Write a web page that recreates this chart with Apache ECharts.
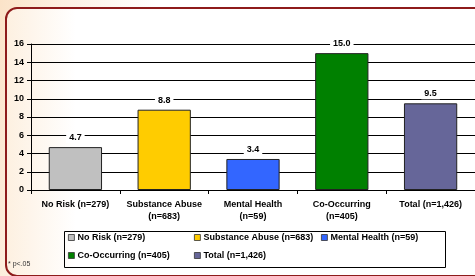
<!DOCTYPE html>
<html>
<head>
<meta charset="utf-8">
<script src="https://cdn.jsdelivr.net/npm/echarts@6/dist/echarts.min.js"></script>
<style>
html, body { margin:0; padding:0; }
body { width:475px; height:276px; overflow:hidden; position:relative;
  background: linear-gradient(100deg, #fbe3c8 0%, #fdf0e2 12%, #ffffff 30%); }
#card { position:absolute; left:5px; top:7px; width:490px; height:266px;
  border:2px solid #8e1b1b; border-radius:12px;
  background: linear-gradient(90deg, rgba(252,228,200,0.55) 0%, rgba(255,255,255,0) 14%), #fff; }
#main { position:absolute; left:0; top:0; width:475px; height:276px; }
</style>
</head>
<body>
<div id="card"></div>
<div id="main"></div>
<script>
var categories = ['No Risk (n=279)', 'Substance Abuse\n(n=683)', 'Mental Health\n(n=59)', 'Co-Occurring\n(n=405)', 'Total (n=1,426)'];
var seriesNames = ['No Risk (n=279)', 'Substance Abuse (n=683)', 'Mental Health (n=59)', 'Co-Occurring (n=405)', 'Total (n=1,426)'];
var values = [4.7, 8.8, 3.4, 15.0, 9.5];
var colors = ['#c0c0c0', '#ffcc00', '#3366ff', '#008000', '#666699'];
var yTicks = [0, 2, 4, 6, 8, 10, 12, 14, 16];

var dom = document.getElementById("main");
var myChart = echarts.init(dom);

var series = [];
for (var i = 0; i < values.length; i++) {
    var d = [];
    for (var j = 0; j < values.length; j++) {
        d.push(j == i ? values[i] : '-');
    }
    series.push({
        name: seriesNames[i],
        type: 'bar',
        stack: 'all',
        barWidth: '60%',
        data: d,
        itemStyle: { color: colors[i], borderColor: '#222', borderWidth: 1 },
        label: {
            show: true,
            position: 'top',
            distance: 4,
            formatter: function (p) { return p.value.toFixed(1); },
            color: '#000',
            fontFamily: 'Arial',
            fontWeight: 'bold',
            fontSize: 9,
            backgroundColor: '#fff',
            padding: [1, 3]
        }
    });
}

var legendPos = [[68, 233], [194, 233], [321, 233], [68, 251], [194, 251]];
var legends = [];
for (var k = 0; k < seriesNames.length; k++) {
    legends.push({
        data: [seriesNames[k]],
        left: legendPos[k][0],
        top: legendPos[k][1],
        padding: 0,
        itemWidth: 6,
        itemHeight: 6,
        itemGap: 0,
        selectedMode: false,
        icon: 'rect',
        itemStyle: { borderColor: '#333', borderWidth: 0.8 },
        textStyle: { fontFamily: 'Arial', fontWeight: 'bold', fontSize: 9, color: '#000', padding: [0, 0, 0, -2] }
    });
}

var option = {
    animation: false,
    grid: { left: 31, right: 0, top: 44, bottom: 86 },
    legend: legends,
    xAxis: {
        type: 'category',
        data: categories,
        axisLine: { lineStyle: { color: '#000', width: 1 } },
        axisTick: { show: true, length: 4, lineStyle: { color: '#000' } },
        axisLabel: { color: '#000', fontFamily: 'Arial', fontWeight: 'bold', fontSize: 9, margin: 9, lineHeight: 12, interval: 0 }
    },
    yAxis: {
        type: 'value',
        min: yTicks[0],
        max: yTicks[yTicks.length - 1],
        interval: 2,
        axisLine: { show: true, lineStyle: { color: '#000', width: 1 } },
        axisTick: { show: true, length: 4, lineStyle: { color: '#000' } },
        axisLabel: { color: '#000', fontFamily: 'Arial', fontWeight: 'bold', fontSize: 9, margin: 7 },
        splitLine: { lineStyle: { color: '#000', width: 1 } }
    },
    graphic: [
        { type: 'rect', left: 62, top: 229, shape: { width: 381, height: 36 },
          style: { fill: 'none', stroke: '#000', lineWidth: 1 }, z: -1 },
        { type: 'text', left: 8, top: 261,
          style: { text: '* p<.05', fontFamily: 'Arial', fontSize: 7, fill: '#333' } }
    ],
    series: series
};
myChart.setOption(option, true);
</script>
</body>
</html>
